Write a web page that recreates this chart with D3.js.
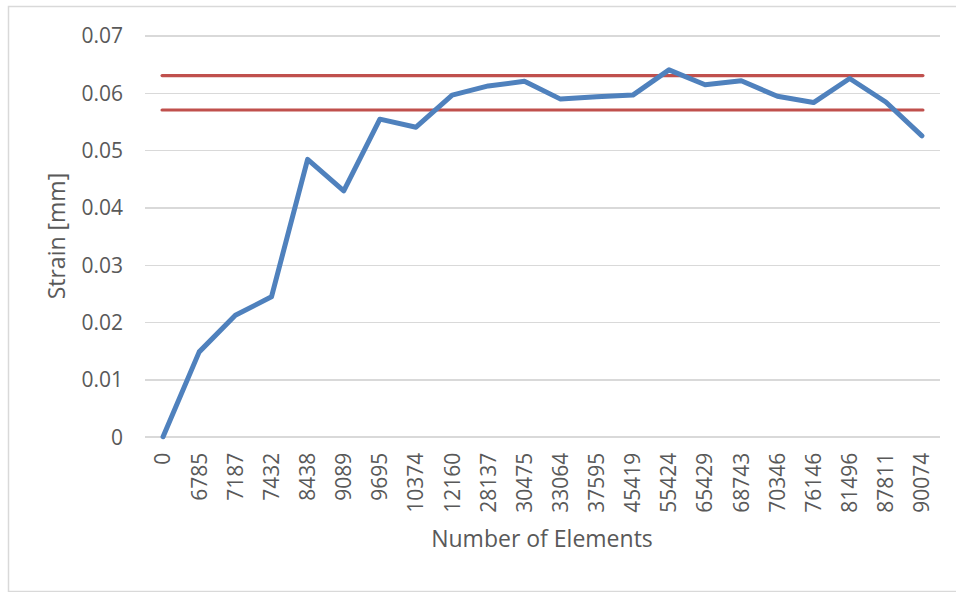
<!DOCTYPE html>
<html lang="en">
<head>
<meta charset="utf-8">
<title>Strain vs Number of Elements</title>
<script src="https://cdn.jsdelivr.net/npm/d3@7"></script>
<style>
  body { margin: 0; background: #fff; }
  text { font-family: "Open Sans", sans-serif; fill: #595959; }
  .grid line { stroke: #d9d9d9; stroke-width: 1.5; shape-rendering: crispEdges; }
  .grid path { stroke-width: 0; }
  .axis path, .axis line { stroke: none; }
  .axis text { font-size: 21px; fill: #595959; }
</style>
</head>
<body>
<script>
var w = 956, h = 592;
var m = { left: 145, right: 16, top: 35.5, bottom: 155.5 };

// category labels on the x axis
var elements = ["0", "6785", "7187", "7432", "8438", "9089", "9695", "10374", "12160",
  "28137", "30475", "33064", "37595", "45419", "55424", "65429", "68743", "70346",
  "76146", "81496", "87811", "90074"];
// strain values
var strain = [0, 0.0148, 0.0212, 0.0244, 0.0484, 0.0429, 0.0554, 0.0540, 0.0596,
  0.0612, 0.0620, 0.0589, 0.0593, 0.0596, 0.0640, 0.0614, 0.0621, 0.0594,
  0.0583, 0.0625, 0.0584, 0.0525];
// upper and lower limit lines
var limits = [0.063, 0.057];
var yTicks = [0, 0.01, 0.02, 0.03, 0.04, 0.05, 0.06, 0.07];

var svg = d3.select("body").append("svg")
  .attr("width", w)
  .attr("height", h);

// chart border
svg.append("rect")
  .attr("x", 8.5).attr("y", 6.5)
  .attr("width", 980).attr("height", 585)
  .attr("fill", "none")
  .attr("stroke", "#d9d9d9")
  .attr("stroke-width", 1.5);

var x = d3.scaleBand()
  .domain(elements)
  .range([m.left, w - m.right]);

var y = d3.scaleLinear()
  .domain([0, 0.07])
  .range([h - m.bottom + 0.2, m.top]);

// horizontal gridlines
svg.append("g")
  .attr("class", "grid")
  .attr("transform", "translate(" + m.left + ",0)")
  .call(d3.axisLeft(y).tickValues(yTicks)
    .tickSize(-(w - m.right - m.left))
    .tickFormat(""));

// y axis labels
svg.append("g")
  .attr("class", "axis")
  .attr("transform", "translate(" + (m.left - 14) + ",0)")
  .call(d3.axisLeft(y).tickValues(yTicks).tickSize(0).tickPadding(8)
    .tickFormat(function (d) { return d === 0 ? "0" : d3.format(".2f")(d); }))
  .selectAll("text")
  .attr("dy", "0.35em");

// x axis labels, rotated
svg.append("g")
  .attr("class", "axis")
  .attr("transform", "translate(0," + y(0) + ")")
  .call(d3.axisBottom(x).tickSize(0).tickPadding(0))
  .selectAll("text")
  .attr("transform", "rotate(-90)")
  .attr("text-anchor", "end")
  .attr("x", -16)
  .attr("y", 0)
  .attr("dy", "0.35em");

// limit lines
svg.append("g").selectAll("line")
  .data(limits)
  .enter().append("line")
  .attr("x1", x(elements[0]) + x.bandwidth() / 2 - 1)
  .attr("x2", x(elements[elements.length - 1]) + x.bandwidth() / 2 + 1)
  .attr("y1", function (d) { return y(d); })
  .attr("y2", function (d) { return y(d); })
  .attr("stroke", "#c0504d")
  .attr("stroke-width", 3.2)
  .attr("stroke-linecap", "round");

// strain line
var line = d3.line()
  .x(function (d, i) { return x(elements[i]) + x.bandwidth() / 2; })
  .y(function (d) { return y(d); });

svg.append("path")
  .datum(strain)
  .attr("d", line)
  .attr("fill", "none")
  .attr("stroke", "#4f81bd")
  .attr("stroke-width", 5)
  .attr("stroke-linejoin", "round")
  .attr("stroke-linecap", "round");

// axis titles
svg.append("text")
  .attr("x", 542)
  .attr("y", 539)
  .attr("dy", "0.35em")
  .attr("text-anchor", "middle")
  .style("font-size", "23px")
  .text("Number of Elements");

svg.append("text")
  .attr("transform", "translate(57," + (y(0) + y(0.07)) / 2 + ") rotate(-90)")
  .attr("dy", "0.35em")
  .attr("text-anchor", "middle")
  .style("font-size", "23px")
  .text("Strain [mm]");
</script>
</body>
</html>
